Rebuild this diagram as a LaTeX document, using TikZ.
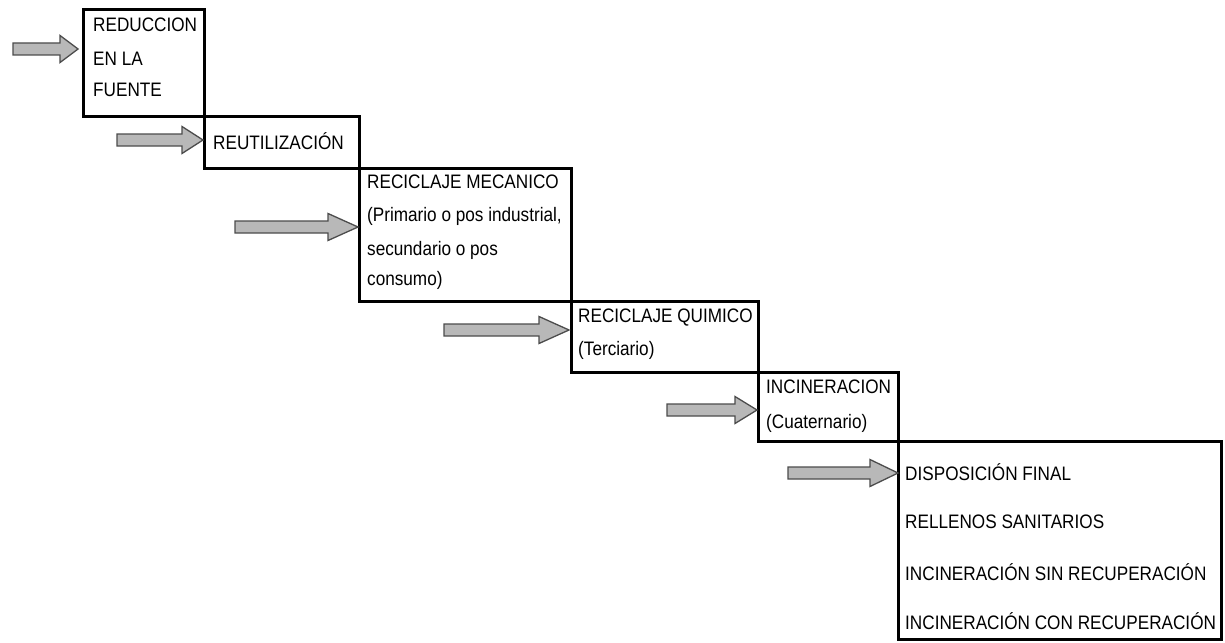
\documentclass[tikz,border=0pt]{standalone}
\usepackage{fontspec}
\setmainfont{Liberation Sans}[FakeStretch=0.88]
\begin{document}
\begin{tikzpicture}[x=1pt,y=-1pt,
  stepbox/.style={draw=black,line width=3pt,rectangle,inner sep=0pt,outer sep=0pt,anchor=north west},
  lbl/.style={anchor=base west,inner sep=0pt,font=\fontsize{19.5}{22}\selectfont},
  arrowline/.style={draw=black!70,fill=black!28,line width=1.3pt,line join=miter},
  pics/blockarrow/.style 2 args={code={
    \path[arrowline] (0,-6) -- (#1-#2,-6) -- (#1-#2,-13.5) -- (#1,0)
      -- (#1-#2,13.5) -- (#1-#2,6) -- (0,6) -- cycle;}}]
\useasboundingbox (0,0) rectangle (1225,642);
% boxes
\node[stepbox,minimum width=121,minimum height=106] (b1) at (83,10) {};
\node[stepbox,minimum width=155,minimum height=52] (b2) at (204,116) {};
\node[stepbox,minimum width=212,minimum height=133] (b3) at (359,168) {};
\node[stepbox,minimum width=187,minimum height=71] (b4) at (571,301) {};
\node[stepbox,minimum width=140,minimum height=69] (b5) at (758,372) {};
\node[stepbox,minimum width=323,minimum height=198] (b6) at (898,441) {};
% texts
\node[lbl] (t1a) at (93,32) {REDUCCION};
\node[lbl] (t1b) at (93,66) {EN LA};
\node[lbl] (t1c) at (93,96) {FUENTE};
\node[lbl] (t2) at (213,149) {REUTILIZACIÓN};
\node[lbl] (t3a) at (367,188) {RECICLAJE MECANICO};
\node[lbl] (t3b) at (367,221) {(Primario o pos industrial,};
\node[lbl] (t3c) at (367,255) {secundario o pos};
\node[lbl] (t3d) at (367,285) {consumo)};
\node[lbl] (t4a) at (578,322) {RECICLAJE QUIMICO};
\node[lbl] (t4b) at (578,355) {(Terciario)};
\node[lbl] (t5a) at (766,393) {INCINERACION};
\node[lbl] (t5b) at (766,428) {(Cuaternario)};
\node[lbl] (t6a) at (905,480) {DISPOSICIÓN FINAL};
\node[lbl] (t6b) at (905,528) {RELLENOS SANITARIOS};
\node[lbl] (t6c) at (905,580) {INCINERACIÓN SIN RECUPERACIÓN};
\node[lbl] (t6d) at (905,629) {INCINERACIÓN CON RECUPERACIÓN};
% arrows
\coordinate (a1) at (13,49);
\coordinate (a2) at (117,140);
\coordinate (a3) at (235,227);
\coordinate (a4) at (444,330);
\coordinate (a5) at (667,410);
\coordinate (a6) at (788,473);
\pic at (a1) {blockarrow={65}{18}};
\pic at (a2) {blockarrow={86}{21}};
\pic at (a3) {blockarrow={123}{30}};
\pic at (a4) {blockarrow={125}{30}};
\pic at (a5) {blockarrow={90}{22}};
\pic at (a6) {blockarrow={110}{28}};
\end{tikzpicture}
\end{document}
